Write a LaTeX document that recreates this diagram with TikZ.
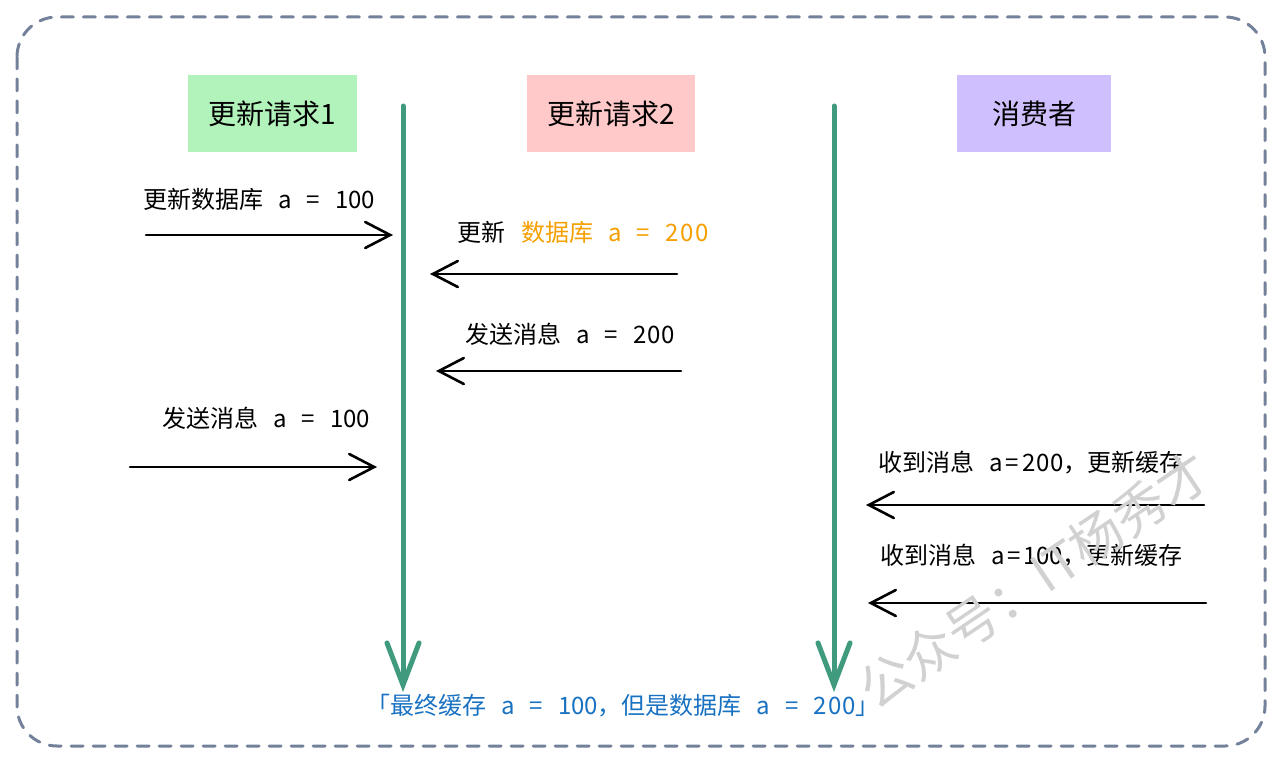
\documentclass[tikz,border=0pt]{standalone}
\usepackage{fontspec}
\setmainfont{Noto Sans CJK SC}
\usetikzlibrary{arrows.meta}
\definecolor{bordc}{HTML}{74819A}
\definecolor{gbox}{HTML}{B2F2BB}
\definecolor{pbox}{HTML}{FFC9C9}
\definecolor{vbox}{HTML}{D0BFFF}
\definecolor{lifec}{HTML}{3F9A7E}
\definecolor{orangec}{HTML}{F59F00}
\definecolor{bluec}{HTML}{1971C2}
\newcommand{\gp}{\hspace{15pt}}
\tikzset{
  title/.style={font=\fontsize{28}{30}\selectfont, inner sep=0pt, minimum height=77pt},
  lifeline/.style={draw=lifec, line width=5pt, line cap=round,
     -{Straight Barb[length=42pt,width=32pt,line cap=round]}},
  msg/.style={draw=black, line width=2.6pt, line cap=round,
     -{Straight Barb[length=25pt,width=26pt,line cap=round]}},
  lbl/.style={font=\fontsize{24}{26}\selectfont, anchor=west, inner sep=0pt},
}
\begin{document}
\begin{tikzpicture}[x=1pt,y=-1pt]
\useasboundingbox (0,0) rectangle (1280,762);
% border
\draw[bordc, line width=3pt, dash pattern=on 12pt off 10pt, line cap=round, rounded corners=40pt]
  (17,17) rectangle (1265,746);
% title boxes
\node[title, fill=gbox, minimum width=169pt] (r1) at (272.5,113.5) {更新请求1};
\node[title, fill=pbox, minimum width=168pt] (r2) at (611,113.5) {更新请求2};
\node[title, fill=vbox, minimum width=154pt] (cs) at (1034,113.5) {消费者};
% lifelines
\coordinate (l1t) at (403,106);
\coordinate (l1b) at (403,692);
\coordinate (l2t) at (834,106);
\coordinate (l2b) at (834,692);
\draw[lifeline] (l1t) -- (l1b);
\draw[lifeline] (l2t) -- (l2b);
% messages
\coordinate (a1s) at (146,235); \coordinate (a1e) at (393,235);
\coordinate (a2s) at (677,274); \coordinate (a2e) at (430,274);
\coordinate (a3s) at (681,371); \coordinate (a3e) at (436,371);
\coordinate (a4s) at (130,467); \coordinate (a4e) at (377,467);
\coordinate (a5s) at (1204,505); \coordinate (a5e) at (866,505);
\coordinate (a6s) at (1206,603); \coordinate (a6e) at (868,603);
\draw[msg] (a1s) -- (a1e);
\draw[msg] (a2s) -- (a2e);
\draw[msg] (a3s) -- (a3e);
\draw[msg] (a4s) -- (a4e);
\draw[msg] (a5s) -- (a5e);
\draw[msg] (a6s) -- (a6e);
% labels
\node[lbl] (t1) at (143,199) {更新数据库\gp a\gp =\gp 100};
\node[lbl] (t2) at (457,232) {更新\hspace{16pt}\textcolor{orangec}{数据库\gp a\gp =\gp 2\kern2pt0\kern2pt0}};
\node[lbl] (t3) at (465,334) {发送消息\gp a\gp =\gp 2\kern1pt0\kern1pt0};
\node[lbl] (t4) at (162,418) {发送消息\gp a\gp =\gp 100};
\node[lbl] (t5) at (878,463) {收到消息\gp a\kern3pt=\kern3pt2\kern1pt0\kern1pt0，更新缓存};
\node[lbl] (t6) at (880,556) {收到消息\gp a\kern3pt=\kern2pt100，更新缓存};
\node[lbl, text=bluec] (t7) at (366,706) {「最终缓存\gp a\gp =\gp 100，但是数据库\gp a\gp =\gp 2\kern1pt0\kern1pt0」};
% watermark
\node[text=black!18, font=\fontsize{52}{54}\selectfont, rotate=34, inner sep=0pt] (wm) at (1034,580) {公众号：IT杨秀才};
\end{tikzpicture}
\end{document}
